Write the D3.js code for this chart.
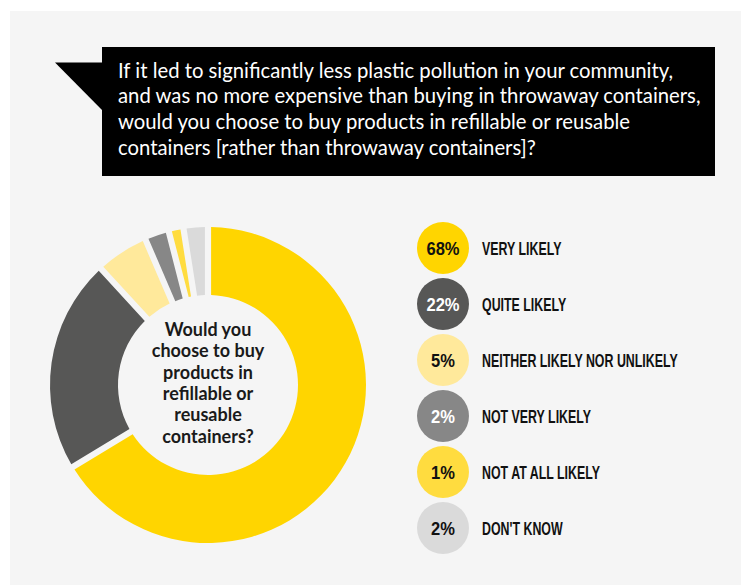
<!DOCTYPE html>
<html>
<head>
<meta charset="utf-8">
<script src="https://cdn.jsdelivr.net/npm/d3@7/dist/d3.min.js"></script>
<style>
  html, body { margin: 0; padding: 0; background: #ffffff; }
  svg { display: block; }
</style>
</head>
<body>
<svg id="chart" width="741" height="585"></svg>
<script>
// Survey answers, in the order they sit round the ring (clockwise from 12 o'clock)
const categories = [
  "VERY LIKELY",
  "QUITE LIKELY",
  "NEITHER LIKELY NOR UNLIKELY",
  "NOT VERY LIKELY",
  "NOT AT ALL LIKELY",
  "DON'T KNOW"
];
const shares = [68, 22, 5, 2, 1, 2];
const sliceColors = ["#FFD500", "#575756", "#FFE99B", "#878787", "#FFDC3F", "#DADADA"];
const badgeTextColors = ["#111111", "#ffffff", "#111111", "#ffffff", "#111111", "#111111"];

const questionLines = [
  "If it led to significantly less plastic pollution in your community,",
  "and was no more expensive than buying in throwaway containers,",
  "would you choose to buy products in refillable or reusable",
  "containers [rather than throwaway containers]?"
];
const centerLines = [
  "Would you",
  "choose to buy",
  "products in",
  "refillable or",
  "reusable",
  "containers?"
];

const rows = categories.map((c, i) => ({ category: c, share: shares[i], color: sliceColors[i], textColor: badgeTextColors[i] }));

const svg = d3.select("#chart");

// light panel behind everything
svg.append("rect")
  .attr("x", 10).attr("y", 11)
  .attr("width", 731).attr("height", 574)
  .attr("fill", "#F5F5F5");

// speech-bubble header
const header = svg.append("g");
header.append("path")
  .attr("d", "M55,62.5 L103,62.5 L103,111 Z")
  .attr("fill", "#000");
header.append("rect")
  .attr("x", 102).attr("y", 47)
  .attr("width", 613).attr("height", 129)
  .attr("fill", "#000");
header.selectAll("text")
  .data(questionLines)
  .join("text")
  .attr("x", 118)
  .attr("y", (d, i) => 77.5 + i * 25.8)
  .attr("fill", "#fff")
  .attr("font-family", "Lato, 'Open Sans', sans-serif")
  .attr("font-size", 20.3)
  .text(d => d);

// donut
const cx = 208, cy = 385, outerR = 158, innerR = 90;
const pie = d3.pie()
  .value(d => d.share)
  .sort(null)
  .startAngle(0)
  .endAngle(2 * Math.PI)
  .padAngle(0.034);
const arc = d3.arc().innerRadius(innerR).outerRadius(outerR);

const donut = svg.append("g").attr("transform", `translate(${cx},${cy})`);
donut.selectAll("path")
  .data(pie(rows))
  .join("path")
  .attr("d", arc)
  .attr("fill", d => d.data.color);

donut.selectAll("text")
  .data(centerLines)
  .join("text")
  .attr("x", 0)
  .attr("y", (d, i) => -49 + i * 21.3)
  .attr("text-anchor", "middle")
  .attr("fill", "#1a1a1a")
  .attr("font-family", "Lato, 'Open Sans', sans-serif")
  .attr("font-weight", 700)
  .attr("font-size", 18)
  .text(d => d);

// legend with percentage badges
const legendY = d3.scalePoint().domain(categories).range([248, 528]);
const legend = svg.append("g");
const item = legend.selectAll("g")
  .data(rows)
  .join("g")
  .attr("transform", d => `translate(443,${legendY(d.category)})`);

item.append("circle")
  .attr("r", 26)
  .attr("fill", d => d.color);

item.append("text")
  .attr("transform", "translate(0,6.7) scale(0.87,1)")
  .attr("text-anchor", "middle")
  .attr("fill", d => d.textColor)
  .attr("font-family", "'Liberation Sans', Arial, sans-serif")
  .attr("font-weight", 700)
  .attr("font-size", 19)
  .text(d => d.share + "%");

item.append("text")
  .attr("transform", "translate(39,6.7) scale(0.67,1)")
  .attr("fill", "#111")
  .attr("font-family", "'Liberation Sans', Arial, sans-serif")
  .attr("font-weight", 700)
  .attr("font-size", 18.5)
  .text(d => d.category);
</script>
</body>
</html>
